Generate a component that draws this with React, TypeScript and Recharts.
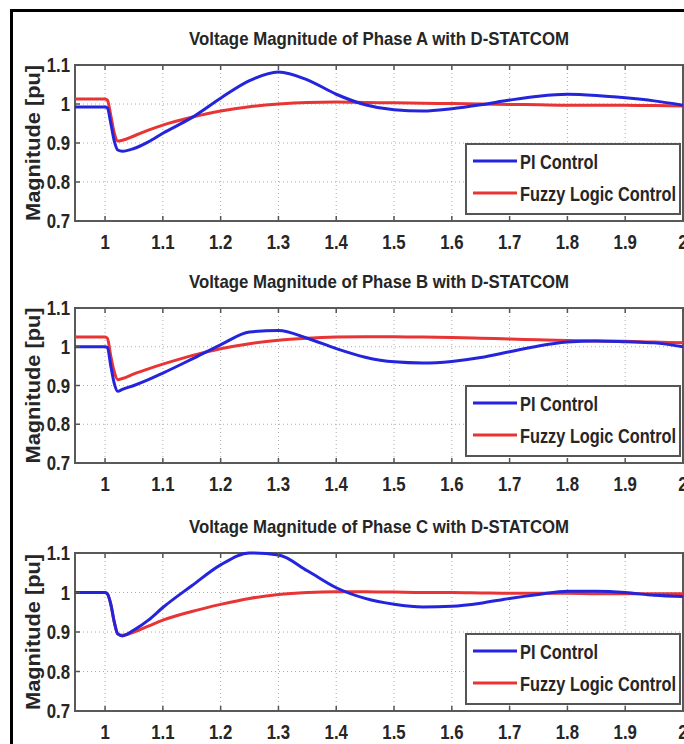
import React from 'react';
import { LineChart, Line, XAxis, YAxis, CartesianGrid, ReferenceArea } from 'recharts';

const time = [0.948, 1.0, 1.004, 1.01, 1.016, 1.022, 1.03, 1.05, 1.075, 1.1, 1.15, 1.2, 1.25, 1.3, 1.35, 1.4, 1.45, 1.5, 1.55, 1.6, 1.65, 1.7, 1.75, 1.8, 1.85, 1.9, 1.95, 2.0];

const piA = [0.992, 0.992, 0.99, 0.95, 0.905, 0.882, 0.879, 0.886, 0.903, 0.925, 0.965, 1.015, 1.06, 1.082, 1.062, 1.025, 0.998, 0.985, 0.982, 0.988, 0.998, 1.01, 1.02, 1.025, 1.022, 1.016, 1.008, 0.997];
const fuzzyA = [1.013, 1.013, 1.01, 0.97, 0.925, 0.905, 0.907, 0.918, 0.933, 0.946, 0.966, 0.982, 0.993, 1.0, 1.004, 1.005, 1.004, 1.003, 1.002, 1.001, 1.0, 0.999, 0.998, 0.997, 0.997, 0.997, 0.996, 0.995];

const piB = [1.0, 1.0, 0.998, 0.95, 0.905, 0.885, 0.89, 0.9, 0.915, 0.932, 0.968, 1.005, 1.038, 1.042, 1.022, 0.995, 0.973, 0.961, 0.958, 0.962, 0.972, 0.987, 1.002, 1.012, 1.015, 1.013, 1.01, 1.0];
const fuzzyB = [1.025, 1.025, 1.022, 0.975, 0.935, 0.915, 0.918, 0.93, 0.943, 0.955, 0.977, 0.995, 1.008, 1.017, 1.022, 1.025, 1.026, 1.026, 1.025, 1.024, 1.022, 1.02, 1.018, 1.016, 1.015, 1.014, 1.012, 1.01];

const piC = [1.0, 1.0, 0.997, 0.97, 0.925, 0.895, 0.89, 0.905, 0.93, 0.962, 1.017, 1.07, 1.1, 1.095, 1.055, 1.012, 0.985, 0.97, 0.963, 0.965, 0.973, 0.985, 0.995, 1.003, 1.003, 1.0, 0.993, 0.99];
const fuzzyC = [1.0, 1.0, 0.997, 0.97, 0.925, 0.895, 0.892, 0.9, 0.915, 0.93, 0.952, 0.97, 0.985, 0.995, 1.0, 1.002, 1.002, 1.001, 1.0, 1.0, 0.999, 0.998, 0.998, 0.998, 0.997, 0.997, 0.997, 0.997];

const titles = [
  'Voltage Magnitude of Phase A with D-STATCOM',
  'Voltage Magnitude of Phase B with D-STATCOM',
  'Voltage Magnitude of Phase C with D-STATCOM',
];
const seriesNames = ['PI Control', 'Fuzzy Logic Control'];
const xTicks = [1, 1.1, 1.2, 1.3, 1.4, 1.5, 1.6, 1.7, 1.8, 1.9, 2];
const yTicks = [0.7, 0.8, 0.9, 1, 1.1];
const yLabel = 'Magnitude [pu]';

const BLUE = '#2424dc';
const RED = '#e83434';
const FONT = "'Liberation Sans', Arial, sans-serif";
const TXT = '#262626';
const PAD = 20;

const build = (pi: number[], fz: number[]) => time.map((t, i) => ({ t, pi: pi[i], fz: fz[i] }));

const panels = [
  { data: build(piA, fuzzyA), title: titles[0], plotTop: 65, plotBottom: 221 },
  { data: build(piB, fuzzyB), title: titles[1], plotTop: 308, plotBottom: 463 },
  { data: build(piC, fuzzyC), title: titles[2], plotTop: 553, plotBottom: 711 },
];

const fmt = (v: number) => String(Math.round(v * 10) / 10);

const makeXTick = (plotTop: number, plotBottom: number) => (props: any) => {
  const { x, y, payload } = props;
  return (
    <g>
      <line x1={x} x2={x} y1={plotBottom} y2={plotBottom - 5} stroke="#555" strokeWidth={1.5} />
      <line x1={x} x2={x} y1={plotTop} y2={plotTop + 5} stroke="#555" strokeWidth={1.5} />
      <text x={0} y={0} transform={`translate(${x},${y}) scale(0.8,1)`} textAnchor="middle" dominantBaseline="central"
        fontFamily={FONT} fontWeight="bold" fontSize={21} fill={TXT}>{fmt(payload.value)}</text>
    </g>
  );
};

const YTick = (props: any) => {
  const { x, y, payload } = props;
  return (
    <g>
      <line x1={75} x2={80} y1={y} y2={y} stroke="#555" strokeWidth={1.5} />
      <text x={0} y={0} transform={`translate(${x},${y}) scale(0.8,1)`} textAnchor="end" dominantBaseline="central"
        fontFamily={FONT} fontWeight="bold" fontSize={21} fill={TXT}>{fmt(payload.value)}</text>
    </g>
  );
};

const Panel = ({ data, plotTop, plotBottom }: { data: any[]; plotTop: number; plotBottom: number }) => {
  const chartTop = plotTop - PAD;
  const h = plotBottom - plotTop + PAD + 35;
  return (
    <div style={{ position: 'absolute', left: 0, top: chartTop, width: 684, height: h }}>
      <LineChart width={684} height={h} data={data} margin={{ top: PAD, right: 1, left: 0, bottom: 0 }}>
        <CartesianGrid stroke="#aaa" strokeDasharray="1 3" />
        <XAxis dataKey="t" type="number" domain={[0.948, 2]} ticks={xTicks} allowDataOverflow height={35}
          tickSize={0} tickMargin={21} axisLine={false} interval={0}
          tick={makeXTick(PAD, plotBottom - chartTop)} />
        <YAxis type="number" domain={[0.7, 1.1]} ticks={yTicks} width={75} tickSize={0} tickMargin={5} axisLine={false}
          interval={0} tick={<YTick />} />
        <ReferenceArea x1={0.948} x2={2} y1={0.7} y2={1.1} fill="none" stroke="#5a5a5a" strokeWidth={2} ifOverflow="visible" />
        <Line dataKey="fz" type="monotone" stroke={RED} strokeWidth={3} dot={false} isAnimationActive={false} />
        <Line dataKey="pi" type="monotone" stroke={BLUE} strokeWidth={3} dot={false} isAnimationActive={false} />
      </LineChart>
    </div>
  );
};

const Overlay = () => (
  <svg width={684} height={744} style={{ position: 'absolute', left: 0, top: 0, pointerEvents: 'none' }}>
    {panels.map((p, i) => {
      const lt = p.plotBottom - 77;
      const mid = (p.plotTop + p.plotBottom) / 2;
      return (
        <g key={i}>
          <text x={379} y={p.plotTop - 27} textAnchor="middle" dominantBaseline="central" fontFamily={FONT} fontWeight="bold"
            fontSize={19} fill={TXT} textLength={380} lengthAdjust="spacingAndGlyphs">{p.title}</text>
          <text x={0} y={0} transform={`translate(33,${mid}) rotate(-90)`} textAnchor="middle" dominantBaseline="central"
            fontFamily={FONT} fontWeight="bold" fontSize={20} fill={TXT} textLength={156} lengthAdjust="spacingAndGlyphs">{yLabel}</text>
          <rect x={466} y={lt} width={214} height={70} fill="#fff" stroke="#555" strokeWidth={2} />
          <line x1={473} x2={517} y1={lt + 17} y2={lt + 17} stroke={BLUE} strokeWidth={3} />
          <line x1={473} x2={517} y1={lt + 49} y2={lt + 49} stroke={RED} strokeWidth={3} />
          <text x={520} y={lt + 17} dominantBaseline="central" fontFamily={FONT} fontWeight="bold" fontSize={21} fill={TXT}
            textLength={78} lengthAdjust="spacingAndGlyphs">{seriesNames[0]}</text>
          <text x={520} y={lt + 49} dominantBaseline="central" fontFamily={FONT} fontWeight="bold" fontSize={21} fill={TXT}
            textLength={156} lengthAdjust="spacingAndGlyphs">{seriesNames[1]}</text>
        </g>
      );
    })}
  </svg>
);

export default function App() {
  return (
    <div style={{ position: 'absolute', left: 0, top: 0, width: 684, height: 744, overflow: 'hidden', background: '#fff' }}>
      <div style={{ position: 'absolute', left: 10, top: 9, width: 800, height: 800, borderLeft: '3px solid #000', borderTop: '3px solid #000' }} />
      {panels.map((p, i) => (
        <Panel key={i} data={p.data} plotTop={p.plotTop} plotBottom={p.plotBottom} />
      ))}
      <Overlay />
    </div>
  );
}
